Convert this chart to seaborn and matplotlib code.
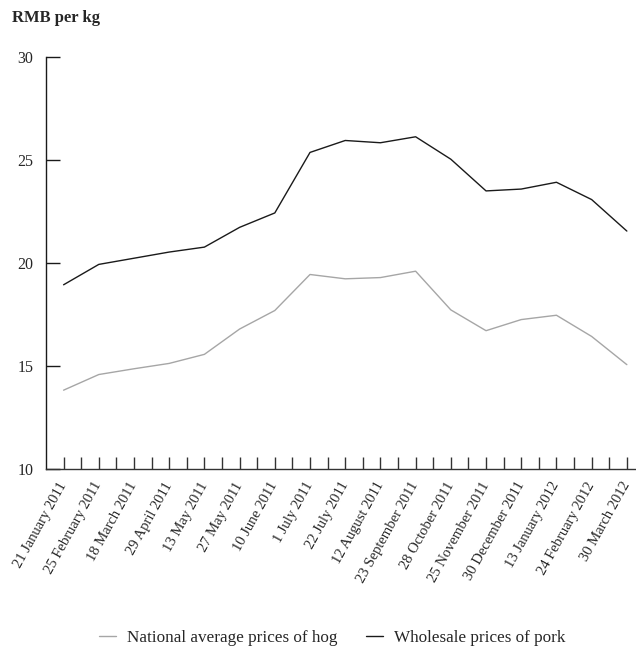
import numpy as np
import pandas as pd
import matplotlib.pyplot as plt
import seaborn as sns

# dates and prices (RMB per kg)
dates = ['21 January 2011', '25 February 2011', '18 March 2011', '29 April 2011',
         '13 May 2011', '27 May 2011', '10 June 2011', '1 July 2011', '22 July 2011',
         '12 August 2011', '23 September 2011', '28 October 2011', '25 November 2011',
         '30 December 2011', '13 January 2012', '24 February 2012', '30 March 2012']
hog = [13.83, 14.59, 14.87, 15.13, 15.57, 16.80, 17.70, 19.45, 19.24, 19.30,
       19.61, 17.73, 16.72, 17.26, 17.47, 16.44, 15.07]
pork = [18.95, 19.94, 20.24, 20.54, 20.78, 21.74, 22.44, 25.38, 25.96, 25.85,
        26.14, 25.05, 23.51, 23.60, 23.93, 23.09, 21.56]
series = ['National average prices of hog', 'Wholesale prices of pork']

df = pd.DataFrame({
    'pos': list(range(len(dates))) * 2,
    'price': hog + pork,
    'series': [series[0]] * len(dates) + [series[1]] * len(dates),
})

sns.set_style('ticks')
plt.rcParams['font.family'] = ['Liberation Serif', 'DejaVu Serif']

fig = plt.figure(figsize=(6.36, 6.47), dpi=100)
ax = fig.add_axes([0.0723, 0.2751, 0.9277, 0.6363])

sns.lineplot(data=df, x='pos', y='price', hue='series',
             palette=['#a6a6a6', '#1a1a1a'], linewidth=1.0, ax=ax)

ax.set_xlim(-0.5, 16.26)
ax.set_ylim(10, 30)
ax.set_yticks([10, 15, 20, 25, 30])
ax.set_xticks(range(len(dates)))
ax.set_xticks(np.arange(0.5, len(dates) - 1, 1.0), minor=True)
ax.set_xticklabels(dates, rotation=61, ha='right', va='center',
                   rotation_mode='anchor', fontsize=10.5)
ax.tick_params(axis='y', direction='in', length=10, width=1, labelsize=11.5, pad=9,
               color='#1a1a1a', left=True)
ax.tick_params(axis='x', which='both', direction='in', length=9, width=1, pad=10,
               color='#333333', bottom=True)
ax.set_xlabel('')
ax.set_ylabel('')

for s in ['top', 'right']:
    ax.spines[s].set_visible(False)
ax.spines['left'].set_color('#1a1a1a')
ax.spines['bottom'].set_color('#333333')
for s in ['left', 'bottom']:
    ax.spines[s].set_linewidth(1.0)

fig.text(0.019, 0.984, 'RMB per kg', fontsize=12, fontweight='bold', va='top')

ax.legend(loc='center', bbox_to_anchor=(0.485, -0.41), ncol=2, frameon=False,
          fontsize=12.3, handlelength=1.0, handletextpad=0.65, columnspacing=1.65)

fig.savefig('out.png', dpi=100)
